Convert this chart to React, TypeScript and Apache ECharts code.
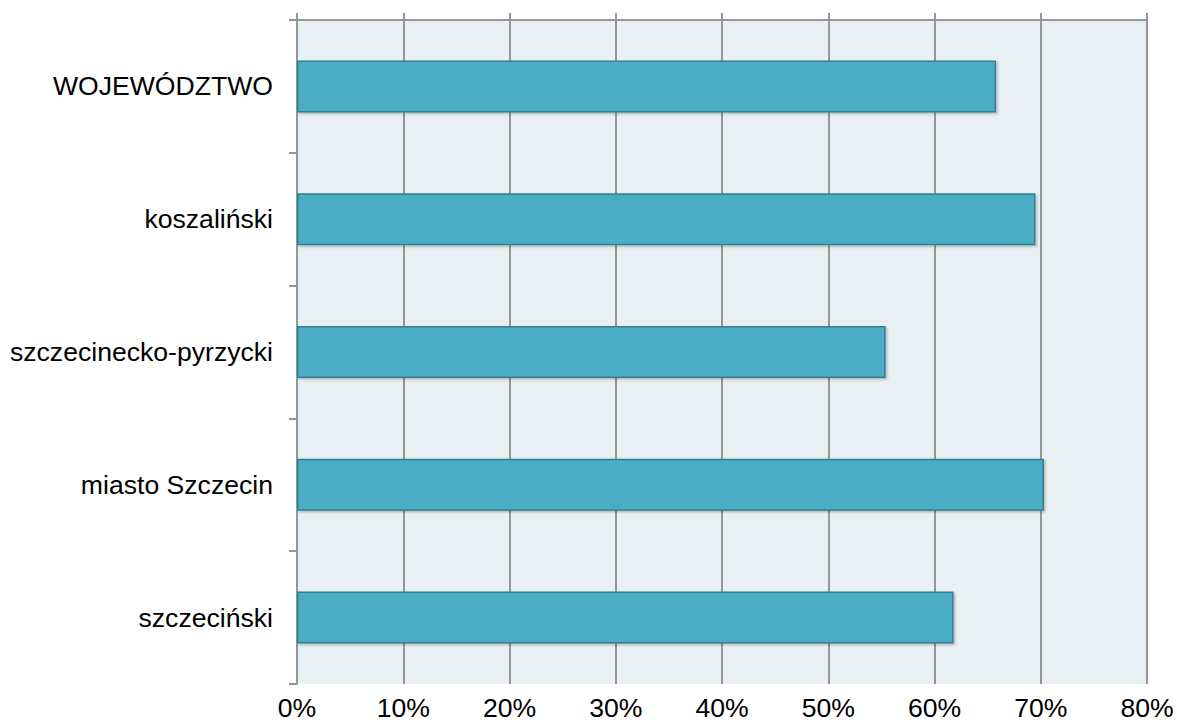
import React, { useEffect, useRef } from "react";
import * as echarts from "echarts";

const categories = ["WOJEWÓDZTWO", "koszaliński", "szczecinecko-pyrzycki", "miasto Szczecin", "szczeciński"];
const values = [65.8, 69.5, 55.4, 70.3, 61.8];
const axisMin = 0;
const axisMax = 80;
const axisStep = 10;

export default function App() {
  const ref = useRef<HTMLDivElement>(null);
  useEffect(() => {
    if (!ref.current) return;
    const chart = echarts.init(ref.current, null, { renderer: "svg" });
    const font = "Arial, 'Liberation Sans', sans-serif";
    const gridColor = "#969696";
    chart.setOption({
      animation: false,
      grid: {
        left: 297,
        right: 30,
        top: 20,
        bottom: 43,
        show: true,
        backgroundColor: "#E9F0F3",
        borderWidth: 0,
      },
      xAxis: [
        {
          type: "value",
          position: "bottom",
          min: axisMin,
          max: axisMax,
          interval: axisStep,
          axisLine: { show: false },
          axisTick: { show: false },
          axisLabel: {
            formatter: (v: number) => v + "%",
            fontFamily: font,
            fontSize: 26.6,
            color: "#000",
            margin: 10,
          },
          splitLine: { show: true, lineStyle: { color: gridColor, width: 2 } },
        },
        {
          type: "value",
          position: "top",
          min: axisMin,
          max: axisMax,
          interval: axisStep,
          axisLine: { show: true, lineStyle: { color: gridColor, width: 2 } },
          axisTick: { show: true, inside: false, length: 7, lineStyle: { color: gridColor, width: 2 } },
          axisLabel: { show: false },
          splitLine: { show: false },
        },
      ],
      yAxis: {
        type: "category",
        data: categories,
        inverse: true,
        axisLine: { show: true, lineStyle: { color: gridColor, width: 2 } },
        axisTick: { show: true, inside: false, length: 8, lineStyle: { color: gridColor, width: 2 } },
        axisLabel: {
          fontFamily: font,
          fontSize: 26.6,
          color: "#000",
          margin: 24,
        },
        splitLine: { show: false },
      },
      series: [
        {
          type: "bar",
          xAxisIndex: 0,
          data: values,
          barWidth: 52,
          itemStyle: {
            color: "#4BACC6",
            borderColor: "#357F94",
            borderWidth: 1.5,
            shadowColor: "rgba(0,0,0,0.25)",
            shadowBlur: 2,
            shadowOffsetX: 1.5,
            shadowOffsetY: 1.5,
          },
        },
      ],
    });
    return () => chart.dispose();
  }, []);
  return <div ref={ref} style={{ width: 1177, height: 727, position: "absolute", left: 0, top: 0 }} />;
}
